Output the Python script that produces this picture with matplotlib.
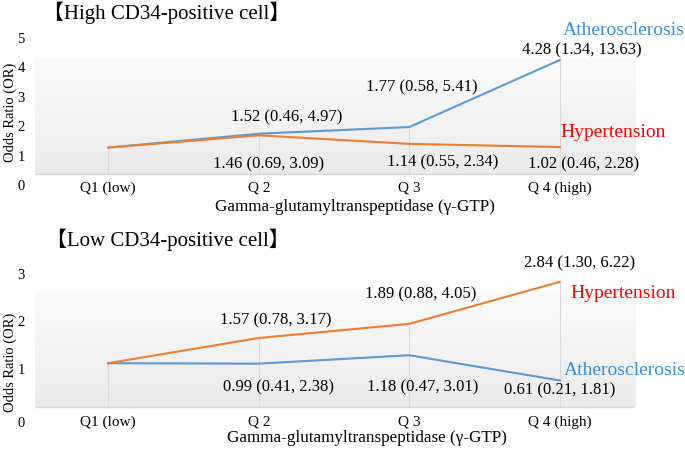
import numpy as np
import matplotlib
matplotlib.use("Agg")
import matplotlib.pyplot as plt
from matplotlib.colors import LinearSegmentedColormap

# ---------------- data ----------------
categories = ["Q1 (low)", "Q 2", "Q 3", "Q 4 (high)"]
high_athero = [1.00, 1.52, 1.77, 4.28]
high_athero_lbl = ["", "1.52 (0.46, 4.97)", "1.77 (0.58, 5.41)", "4.28 (1.34, 13.63)"]
high_hyper = [1.00, 1.46, 1.14, 1.02]
high_hyper_lbl = ["", "1.46 (0.69, 3.09)", "1.14 (0.55, 2.34)", "1.02 (0.46, 2.28)"]

low_athero = [1.00, 0.99, 1.18, 0.61]
low_athero_lbl = ["", "0.99 (0.41, 2.38)", "1.18 (0.47, 3.01)", "0.61 (0.21, 1.81)"]
low_hyper = [1.00, 1.57, 1.89, 2.84]
low_hyper_lbl = ["", "1.57 (0.78, 3.17)", "1.89 (0.88, 4.05)", "2.84 (1.30, 6.22)"]

high_yticklabels = ["0", "1", "2", "3", "4", "5"]
low_yticklabels = ["0", "1", "2", "3"]

# ---------------- style ----------------
W, H = 685, 449
SERIF = ["Liberation Serif", "DejaVu Serif"]
TITLEFONT = ["Liberation Serif", "Noto Sans CJK JP"]
BLUE = "#5b9bd5"
ORANGE = "#ed7d31"
BLUE_TXT = "#3b8ed8"
RED_TXT = "#ff0000"
GRID = "#d9d9d9"

plt.rcParams["font.family"] = SERIF

fig = plt.figure(figsize=(W / 100, H / 100), dpi=100)


def fx(x):
    return x / W


def fy(y):
    return 1 - y / H


grad_cmap = LinearSegmentedColormap.from_list("g", ["#ebebeb", "#fbfbfb"])


def panel(top_px, bottom_px, ylim_top, grad_top, ytick_pos, yticklabels,
          athero, athero_lbl, athero_off, hyper, hyper_lbl, hyper_off,
          athero_name_off, hyper_name_off, title, title_xy, xlab_xy, ylab_xy,
          xpad):
    ax = fig.add_axes([fx(33), fy(bottom_px), fx(635) - fx(33),
                       fy(top_px) - fy(bottom_px)])
    x = np.arange(len(categories)) + 0.5
    # gradient background
    grad = np.linspace(0, 1, 256).reshape(-1, 1)
    ax.imshow(grad, cmap=grad_cmap, origin="lower", aspect="auto",
              extent=[0.01, 4, 0, grad_top], zorder=0)
    ax.set_xlim(0, 4)
    ax.set_ylim(ytick_pos[0], ylim_top)
    ax.hlines(0, 0.01, 4, color=GRID, lw=1.0, zorder=1)
    ax.vlines(x, 0, np.maximum(athero, hyper), color=GRID, lw=0.8, zorder=1)
    ax.plot(x, athero, color=BLUE, lw=1.5, zorder=3, solid_joinstyle="miter")
    ax.plot(x, hyper, color=ORANGE, lw=1.5, zorder=4, solid_joinstyle="miter")
    for xi, v, t, o in zip(x, athero, athero_lbl, athero_off):
        if t:
            ax.annotate(t, (xi, v), xytext=o, textcoords="offset pixels",
                        ha="center", va="center", fontsize=12,
                        annotation_clip=False)
    for xi, v, t, o in zip(x, hyper, hyper_lbl, hyper_off):
        if t:
            ax.annotate(t, (xi, v), xytext=o, textcoords="offset pixels",
                        ha="center", va="center", fontsize=12,
                        annotation_clip=False)
    ax.annotate("Atherosclerosis", (x[-1], athero[-1]), xytext=athero_name_off,
                textcoords="offset pixels", ha="left", va="center",
                fontsize=14, color=BLUE_TXT, annotation_clip=False)
    ax.annotate("Hypertension", (x[-1], hyper[-1]), xytext=hyper_name_off,
                textcoords="offset pixels", ha="left", va="center",
                fontsize=14, color=RED_TXT, annotation_clip=False)
    ax.set_xticks(x)
    ax.set_xticklabels(categories, fontsize=11)
    ax.set_yticks(ytick_pos)
    ax.set_yticklabels(yticklabels, fontsize=10.5)
    ax.tick_params(axis="x", length=0, pad=xpad)
    ax.tick_params(axis="y", length=0, pad=6)
    for s in ax.spines.values():
        s.set_visible(False)
    ax.patch.set_alpha(0)
    fig.text(fx(title_xy[0]), fy(title_xy[1]), title, family=TITLEFONT,
             fontsize=15, ha="left", va="center")
    fig.text(fx(xlab_xy[0]), fy(xlab_xy[1]),
             "Gamma-glutamyltranspeptidase (\u03b3-GTP)", fontsize=12.3,
             ha="center", va="center")
    fig.text(fx(ylab_xy[0]), fy(ylab_xy[1]), "Odds Ratio (OR)", fontsize=10.5,
             rotation=90, ha="center", va="center")
    return ax


# top panel: 26.7 px per unit, zero at y=174.3 px
panel(30, 174.3 + 0.40 * 26.7, 144.3 / 26.7, 115.3 / 26.7,
      [-0.40, 0.69, 1.82, 2.91, 4.03, 5.10], high_yticklabels,
      high_athero, high_athero_lbl, [None, (28, 16), (13, 40), (22, 10)],
      high_hyper, high_hyper_lbl, [None, (10, -29), (33, -19), (24, -17)],
      (3, 30), (1, 15),
      "\u3010High CD34-positive cell\u3011", (43, 13), (355, 207), (10, 112),
      -2.5)

# bottom panel: 44.2 px per unit, zero at y=407.4 px
panel(265, 407.4 + 0.32 * 44.2, 142.4 / 44.2, 114.4 / 44.2,
      [-0.32, 0.88, 1.96, 3.02], low_yticklabels,
      low_athero, low_athero_lbl, [None, (20, -24), (13, -32), (0, -10)],
      low_hyper, low_hyper_lbl, [None, (17, 18), (11, 29), (20, 18)],
      (4, 10), (11, -12),
      "\u3010Low CD34-positive cell\u3011", (46, 240), (367, 438), (10, 362),
      -4)

fig.savefig("out.png", dpi=100)
